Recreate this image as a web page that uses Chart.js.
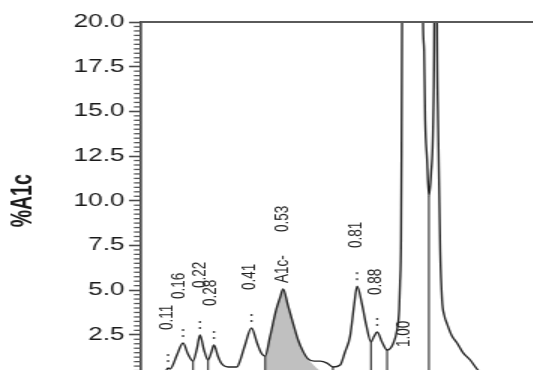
<!DOCTYPE html>
<html><head><meta charset="utf-8">
<script src="https://cdn.jsdelivr.net/npm/chart.js@4.4.1/dist/chart.umd.min.js"></script>
<style>
html,body{margin:0;padding:0;overflow:hidden;background:#fff;width:533px;height:370px}
</style></head><body>
<canvas id="c" width="356" height="400" style="display:block;width:534px;height:400px"></canvas>
<script>
// Chromatogram trace: retention time (min) vs %A1c
const curveTimes = [0, 0.034, 0.071, 0.090, 0.101, 0.108, 0.116, 0.134, 0.157, 0.175, 0.194, 0.209, 0.220, 0.235, 0.250, 0.263, 0.272, 0.287, 0.299, 0.325, 0.358, 0.369, 0.388, 0.412, 0.433, 0.448, 0.463, 0.481, 0.504, 0.519, 0.530, 0.549, 0.567, 0.586, 0.605, 0.623, 0.646, 0.668, 0.694, 0.716, 0.743, 0.761, 0.780, 0.795, 0.806, 0.825, 0.840, 0.858, 0.869, 0.881, 0.899, 0.918, 0.940, 0.955, 0.963, 0.966, 0.970, 0.972, 0.974, 0.990, 1.011, 1.035, 1.052, 1.056, 1.060, 1.067, 1.074, 1.082, 1.090, 1.094, 1.099, 1.104, 1.108, 1.116, 1.123, 1.131, 1.142, 1.160, 1.179, 1.201, 1.228, 1.257, 1.302, 1.358, 1.466];
const curveValues = [0.05, 0.08, 0.20, 0.40, 0.64, 0.58, 0.72, 1.37, 2.04, 1.43, 1.03, 1.76, 2.49, 1.65, 1.09, 1.55, 1.93, 1.30, 0.92, 0.70, 0.70, 1.03, 1.93, 2.88, 2.04, 1.50, 1.31, 2.38, 3.89, 4.60, 5.06, 4.10, 3.16, 2.21, 1.56, 1.15, 1.03, 1.03, 0.92, 0.70, 0.81, 1.54, 2.43, 4.17, 5.22, 4.17, 3.05, 2.10, 2.40, 2.66, 2.10, 1.65, 1.99, 2.77, 3.89, 5.29, 7.80, 12.8, 20.5, 60, 90, 60, 20.0, 18.4, 14.5, 12.3, 10.25, 11.5, 14.5, 20.5, 50, 20.5, 14.5, 7.24, 4.45, 3.61, 3.10, 2.43, 2.04, 1.50, 1.09, 0.53, 0.10, 0.0, 0.0];

// integration drop lines (valley times)
const dropTimes = [0.194, 0.250, 0.463, 0.716, 0.858, 0.918, 1.074];

// shaded A1c peak: start, end on curve, end of baseline
const a1cStart = 0.463, a1cEnd = 0.623, a1cBaseEnd = 0.705;

// peak markers (apex)
const peakTimes = [0.101, 0.157, 0.220, 0.272, 0.412, 0.806, 0.881];
const peakHeights = [0.64, 2.04, 2.49, 1.93, 2.88, 5.22, 2.66];

// peak annotation texts
const labelTexts = ['0.11', '0.16', '0.22', '0.28', '0.41', 'A1c-', '0.53', '0.81', '0.88', '1.00'];
const labelTimes = [0.097, 0.142, 0.220, 0.257, 0.407, 0.530, 0.530, 0.802, 0.877, 0.980];
const labelLevels = [2.77, 4.50, 5.12, 4.11, 5.01, 5.40, 8.25, 7.36, 4.73, 1.82];

// axis
const yMin = 0, yMax = 20, yMinorStep = 0.25, yMajorStep = 2.5;
const xMin = 0, xMax = 1.466;
const yTitle = '%A1c';

Chart.defaults.font.family = '"Liberation Sans", Arial, Helvetica, sans-serif';

function isMajor(v) { const r = v / yMajorStep; return Math.abs(r - Math.round(r)) < 1e-6; }
function interp(t) {
  for (let i = 1; i < curveTimes.length; i++) {
    if (t <= curveTimes[i]) {
      const t0 = curveTimes[i-1], t1 = curveTimes[i];
      const f = (t - t0) / (t1 - t0);
      return curveValues[i-1] + f * (curveValues[i] - curveValues[i-1]);
    }
  }
  return curveValues[curveValues.length - 1];
}

const curveData = curveTimes.map((t, i) => ({x: t, y: curveValues[i]}));
const a1cData = curveData.filter(p => p.x >= a1cStart - 1e-9 && p.x <= a1cEnd + 1e-9);
a1cData.push({x: a1cBaseEnd, y: 0});

const datasets = [{
  data: curveData, borderColor: '#262626', borderWidth: 1.4, pointRadius: 0,
  cubicInterpolationMode: 'monotone', fill: false
}];
dropTimes.forEach(t => {
  datasets.push({data: [{x: t, y: interp(t)}, {x: t, y: 0}], borderColor: '#3a3a3a', borderWidth: 1.2, pointRadius: 0, fill: false});
});
datasets.push({
  data: a1cData, borderWidth: 0, borderColor: 'rgba(0,0,0,0)', backgroundColor: '#c0c0c0',
  pointRadius: 0, fill: 'origin', cubicInterpolationMode: 'monotone'
});

const deco = {
  id: 'deco',
  afterDraw(chart) {
    const {ctx, chartArea: a, scales: {x, y}} = chart;
    ctx.save();
    // minor ticks
    ctx.strokeStyle = '#555'; ctx.lineWidth = 1.3;
    y.ticks.forEach(tk => {
      if (!isMajor(tk.value)) {
        const py = y.getPixelForValue(tk.value);
        ctx.beginPath(); ctx.moveTo(a.left - 4.7, py); ctx.lineTo(a.left, py); ctx.stroke();
      }
    });
    // top frame line
    ctx.strokeStyle = '#5a5a5a'; ctx.lineWidth = 2;
    ctx.beginPath(); ctx.moveTo(a.left, a.top); ctx.lineTo(a.right, a.top); ctx.stroke();
    // peak markers
    ctx.fillStyle = '#444';
    peakTimes.forEach((t, i) => {
      const px = x.getPixelForValue(t), py = y.getPixelForValue(peakHeights[i]);
      ctx.fillRect(px - 0.7, py - 14, 1.4, 2);
      ctx.fillRect(px - 0.7, py - 8, 1.4, 2);
    });
    // labels
    ctx.font = '13.5px "Liberation Sans", Arial, sans-serif';
    ctx.fillStyle = '#222'; ctx.textAlign = 'left'; ctx.textBaseline = 'middle';
    labelTexts.forEach((s, i) => {
      const px = x.getPixelForValue(labelTimes[i]), py = y.getPixelForValue(labelLevels[i]);
      ctx.save(); ctx.translate(px, py); ctx.rotate(-Math.PI / 2); ctx.fillText(s, 0, 0); ctx.restore();
    });
    ctx.restore();
  }
};

new Chart(document.getElementById('c'), {
  type: 'line',
  data: {datasets},
  options: {
    responsive: false, animation: false, devicePixelRatio: 1, events: [],
    layout: {padding: {top: 22, bottom: 20.5, left: 0, right: 0}},
    plugins: {legend: {display: false}, tooltip: {enabled: false}},
    scales: {
      x: {type: 'linear', min: xMin, max: xMax, display: false},
      y: {
        type: 'linear', min: yMin, max: yMax,
        afterFit: s => { s.width = 94; },
        ticks: {
          stepSize: yMinorStep, autoSkip: false, padding: 3, color: '#1a1a1a',
          font: {size: 17.5},
          callback: v => isMajor(v) ? v.toFixed(1) : ''
        },
        grid: {
          drawOnChartArea: false, tickLength: 8, tickWidth: 1.6,
          tickColor: c => isMajor(c.tick.value) ? '#4a4a4a' : 'rgba(0,0,0,0)'
        },
        border: {display: true, color: '#4a4a4a', width: 1.7},
        title: {display: true, text: yTitle, color: '#1a1a1a', font: {size: 19.5, weight: 'bold'}, padding: {top: 3.5, bottom: 0}}
      }
    }
  },
  plugins: [deco]
});
</script>
</body></html>
